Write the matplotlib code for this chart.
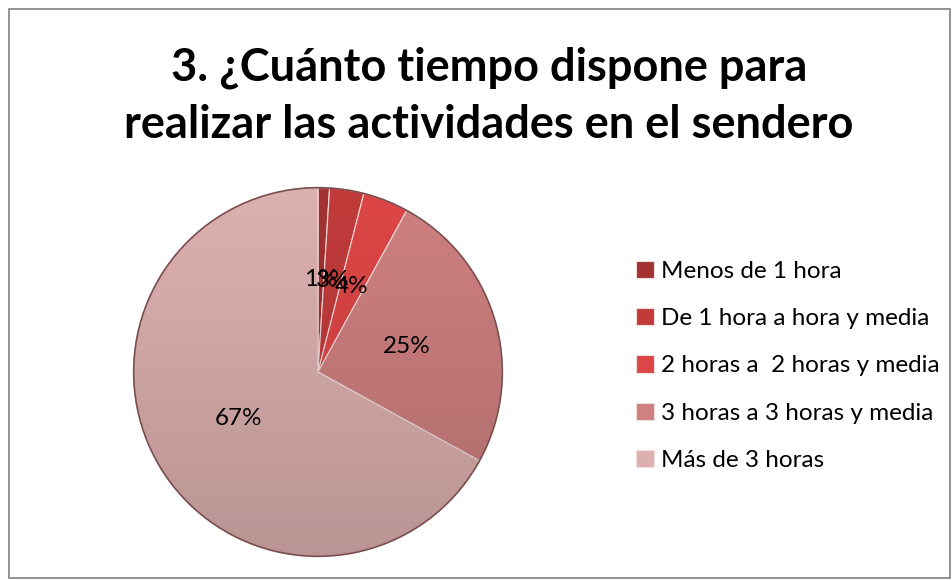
import numpy as np
import matplotlib.pyplot as plt
from matplotlib.patches import Rectangle, Circle

# Datos de la encuesta (pregunta 3)
categorias = ['Menos de 1 hora', 'De 1 hora a hora y media', '2 horas a  2 horas y media',
              '3 horas a 3 horas y media', 'Más de 3 horas']
porcentajes = [1, 3, 4, 25, 67]
colores = ['#a33232', '#c23b3b', '#dd4646', '#cf8080', '#ddb0b0']
titulo = ['3. ¿Cuánto tiempo dispone para', 'realizar las actividades en el sendero']

plt.rcParams['font.family'] = ['Lato', 'DejaVu Sans']

W, H = 952, 580
fig = plt.figure(figsize=(W / 100, H / 100), dpi=100)

# marco del gráfico
fig.patches.append(Rectangle((9 / W, 2 / H), 941 / W, 569 / H, transform=fig.transFigure,
                             fill=False, edgecolor='#8a8a8a', lw=1.3))

# pastel: centro (318, 372) y radio 188 px
cx, cy, r = 318, H - 372, 188
ax = fig.add_axes([(cx - r) / W, (cy - r) / H, 2 * r / W, 2 * r / H])
wedges, textos, autotextos = ax.pie(
    porcentajes, colors=colores, startangle=90, counterclock=False,
    autopct=lambda p: f'{p:.0f}%', pctdistance=0.5, radius=1,
    wedgeprops=dict(edgecolor='#f3dede', linewidth=0.8),
    textprops=dict(fontsize=17.5, color='black'))
ax.set_xlim(-1.02, 1.02)
ax.set_ylim(-1.02, 1.02)
ax.set_aspect('equal')
ax.axis('off')

# sombreado suave para imitar el relieve
grad = np.linspace(0, 1, 256)[:, None] * np.ones((1, 256))
sombra = np.zeros((256, 256, 4))
sombra[..., 3] = 0.16 * grad
img = ax.imshow(sombra, extent=(-1, 1, -1, 1), origin='upper', zorder=3)
img.set_clip_path(Circle((0, 0), 1, transform=ax.transData))
borde = Circle((0, 0), 1, fill=False, edgecolor='#7a4c4c', lw=1.2, zorder=4)
ax.add_patch(borde)
for t in autotextos:
    t.set_zorder(5)

# titulo en dos lineas (lineas base a 80 y 138 px)
for linea, yb in zip(titulo, [80, 138]):
    fig.text(489 / W, 1 - yb / H, linea, ha='center', va='baseline', fontsize=32.5,
             fontweight='bold')

leg = fig.legend(wedges, categorias, loc='upper left',
                 bbox_to_anchor=(636 / W, 1 - 261 / H), frameon=False,
                 fontsize=17.5, handlelength=0.72, handleheight=0.72,
                 handletextpad=0.3, labelspacing=1.07, borderpad=0, borderaxespad=0)

fig.savefig('out.png', dpi=100)
